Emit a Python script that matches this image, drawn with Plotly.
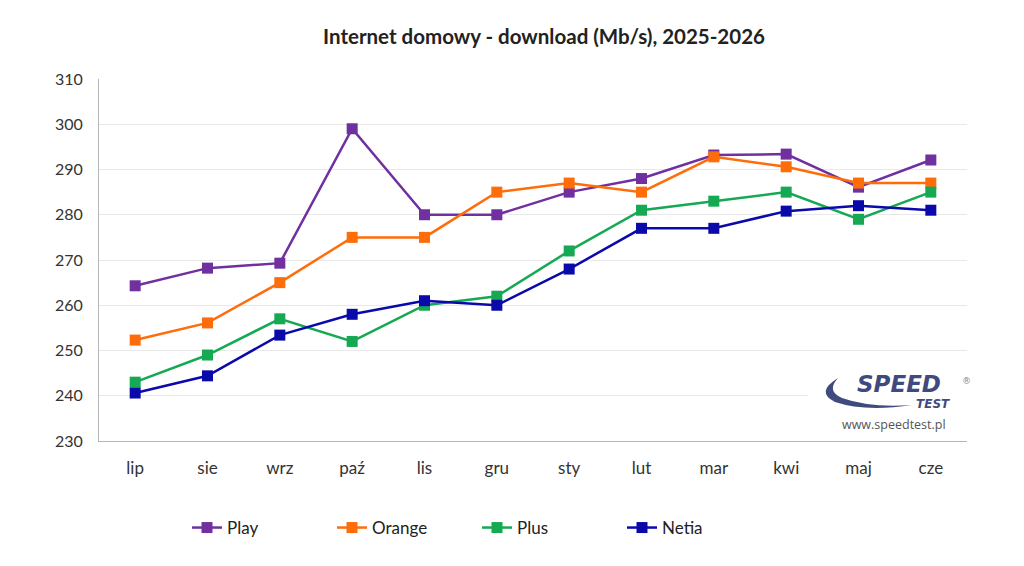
import plotly.graph_objects as go

months = ["lip", "sie", "wrz", "paź", "lis", "gru", "sty", "lut", "mar", "kwi", "maj", "cze"]
play = [264.3, 268.2, 269.3, 299.0, 280.0, 280.0, 285.0, 288.0, 293.2, 293.4, 286.1, 292.1]
orange = [252.3, 256.1, 265.0, 275.0, 275.0, 285.0, 287.0, 285.0, 292.8, 290.6, 287.0, 287.0]
plus = [243.0, 249.0, 257.0, 252.0, 260.0, 262.0, 272.0, 281.0, 283.0, 285.0, 279.0, 285.0]
netia = [240.6, 244.4, 253.4, 258.0, 261.0, 260.0, 268.0, 277.0, 277.0, 280.8, 282.0, 281.0]

series = [("Play", play, "#7030A0"), ("Orange", orange, "#FF6D0A"),
          ("Plus", plus, "#16A954"), ("Netia", netia, "#0A0AAA")]

FONT = "Lato"
fig = go.Figure()
for name, vals, col in series:
    fig.add_trace(go.Scatter(x=months, y=vals, name=name, mode="lines+markers",
                             line=dict(color=col, width=2.5),
                             marker=dict(symbol="square", size=11, color=col)))

# plot area in pixels
L, R, T, B = 99, 967, 79, 441
W, H = R - L, B - T
def px(x):
    return (x - L) / W
def py(y):
    return (B - y) / H

shapes = [
    dict(type="rect", xref="paper", yref="paper", x0=px(808), x1=px(1000), y0=py(439), y1=py(372),
         fillcolor="white", line=dict(width=0), layer="above"),
    dict(type="path", xref="paper", yref="paper",
         path=f"M {px(838)},{py(378)} Q {px(815)},{py(392)} {px(835)},{py(402)} Q {px(865)},{py(412)} {px(912)},{py(405)} "
              f"Q {px(870)},{py(408)} {px(842)},{py(398)} Q {px(826)},{py(391)} {px(838)},{py(378)} Z",
         fillcolor="#3F4A7E", line=dict(width=0), layer="above"),
]

def ann(text, x, y, size, color, family="DejaVu Sans"):
    return dict(text=text, x=px(x), y=py(y), xref="paper", yref="paper", showarrow=False,
                xanchor="center", yanchor="middle",
                font=dict(family=family, size=size, color=color))

annotations = [
    ann("<b><i>SPEED</i></b>", 899, 384, 23, "#3F4A7E"),
    ann("<b><i>TEST</i></b>", 933, 404, 12, "#3F4A7E"),
    ann("®", 966, 381, 9, "#888"),
    ann("www.speedtest.pl", 894, 424, 12.5, "#555", "Open Sans"),
]

fig.update_layout(
    width=1024, height=566,
    margin=dict(l=L, r=1024 - R, t=T, b=566 - B),
    paper_bgcolor="white", plot_bgcolor="white",
    font=dict(family=FONT, color="#333"),
    title=dict(text="<b>Internet domowy - download (Mb/s), 2025-2026</b>", x=544 / 1024, xanchor="center",
               y=1 - 37 / 566, yanchor="middle", font=dict(family=FONT, size=20.5, color="#222")),
    xaxis=dict(showgrid=False, showline=True, linecolor="#b5b5b5", linewidth=1,
               ticks="outside", ticklen=12, tickcolor="white",
               tickfont=dict(size=17, color="#333"), range=[-0.5, 11.5]),
    yaxis=dict(range=[230, 310], dtick=10, showgrid=True, gridcolor="#e8e8e8", gridwidth=1,
               showline=True, linecolor="#b5b5b5", linewidth=1,
               ticks="outside", ticklen=12, tickcolor="white",
               tickfont=dict(size=16, color="#333"), zeroline=False),
    legend=dict(orientation="h", x=px(187), xanchor="left", y=py(528), yanchor="middle",
                font=dict(family=FONT, size=17, color="#222"), itemwidth=30,
                entrywidth=100, entrywidthmode="pixels"),
    shapes=shapes, annotations=annotations,
)

fig.write_html("out.html")
